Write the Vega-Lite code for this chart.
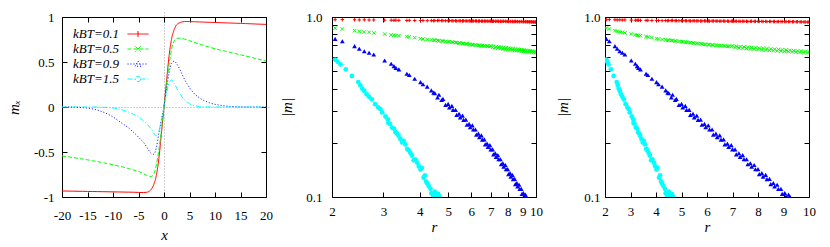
{
"$schema": "https://vega.github.io/schema/vega-lite/v6.json",
"background": "white",
"padding": {"left": 5, "top": 10, "right": 5, "bottom": 5},
"config": {
  "font": "Liberation Serif",
  "view": {"stroke": "black", "strokeWidth": 1},
  "axis": {"labelFont": "Liberation Serif", "labelFontSize": 13, "labelColor": "black", "titleFont": "Liberation Serif", "titleFontSize": 15, "titleFontStyle": "italic", "titleFontWeight": "normal", "titleColor": "black", "domain": false, "grid": false, "tickColor": "black", "tickSize": 5, "offset": -5, "tickWidth": 1, "labelPadding": 8, "labelOverlap": false, "labelFlush": false},
  "legend": {"labelFont": "Liberation Serif"}
},
"datasets": {
"curves": [
{"x":-20,"a":-0.933,"b":-0.544,"c":0,"d":0},
{"x":-18,"a":-0.935,"b":-0.56,"c":-0.001,"d":0},
{"x":-16,"a":-0.937,"b":-0.578,"c":-0.006,"d":0},
{"x":-15,"a":-0.938,"b":-0.587,"c":-0.012,"d":0},
{"x":-14,"a":-0.939,"b":-0.597,"c":-0.022,"d":0},
{"x":-13,"a":-0.94,"b":-0.607,"c":-0.035,"d":0},
{"x":-12,"a":-0.941,"b":-0.618,"c":-0.055,"d":-0.003},
{"x":-11,"a":-0.942,"b":-0.63,"c":-0.08,"d":-0.005},
{"x":-10,"a":-0.943,"b":-0.642,"c":-0.11,"d":-0.01},
{"x":-9,"a":-0.944,"b":-0.655,"c":-0.15,"d":-0.02},
{"x":-8,"a":-0.945,"b":-0.668,"c":-0.19,"d":-0.035},
{"x":-7,"a":-0.946,"b":-0.683,"c":-0.23,"d":-0.055},
{"x":-6,"a":-0.947,"b":-0.699,"c":-0.28,"d":-0.08},
{"x":-5,"a":-0.949,"b":-0.717,"c":-0.335,"d":-0.11},
{"x":-4.5,"a":-0.95,"b":-0.728,"c":-0.365,"d":-0.13},
{"x":-4,"a":-0.95,"b":-0.742,"c":-0.395,"d":-0.155},
{"x":-3.5,"a":-0.948,"b":-0.756,"c":-0.435,"d":-0.18},
{"x":-3,"a":-0.94,"b":-0.768,"c":-0.48,"d":-0.21},
{"x":-2.5,"a":-0.915,"b":-0.772,"c":-0.515,"d":-0.245},
{"x":-2,"a":-0.86,"b":-0.745,"c":-0.525,"d":-0.29},
{"x":-1.5,"a":-0.76,"b":-0.645,"c":-0.45,"d":-0.32},
{"x":-1,"a":-0.57,"b":-0.47,"c":-0.29,"d":-0.27},
{"x":-0.5,"a":-0.29,"b":-0.25,"c":-0.14,"d":-0.14},
{"x":0,"a":0,"b":0,"c":0,"d":0},
{"x":0.5,"a":0.29,"b":0.25,"c":0.2,"d":0.15},
{"x":1,"a":0.57,"b":0.47,"c":0.38,"d":0.27},
{"x":1.5,"a":0.76,"b":0.645,"c":0.49,"d":0.3},
{"x":2,"a":0.86,"b":0.735,"c":0.51,"d":0.26},
{"x":2.5,"a":0.915,"b":0.76,"c":0.48,"d":0.21},
{"x":3,"a":0.935,"b":0.765,"c":0.43,"d":0.16},
{"x":3.5,"a":0.945,"b":0.762,"c":0.37,"d":0.115},
{"x":4,"a":0.95,"b":0.755,"c":0.31,"d":0.08},
{"x":4.5,"a":0.95,"b":0.746,"c":0.26,"d":0.055},
{"x":5,"a":0.949,"b":0.737,"c":0.215,"d":0.035},
{"x":6,"a":0.947,"b":0.717,"c":0.145,"d":0.015},
{"x":7,"a":0.945,"b":0.698,"c":0.1,"d":0.006},
{"x":8,"a":0.943,"b":0.68,"c":0.068,"d":0.003},
{"x":9,"a":0.941,"b":0.663,"c":0.045,"d":0.001},
{"x":10,"a":0.939,"b":0.648,"c":0.03,"d":0},
{"x":11,"a":0.937,"b":0.633,"c":0.02,"d":0},
{"x":12,"a":0.935,"b":0.62,"c":0.012,"d":0},
{"x":13,"a":0.933,"b":0.606,"c":0.007,"d":0},
{"x":14,"a":0.931,"b":0.593,"c":0.004,"d":0},
{"x":15,"a":0.929,"b":0.58,"c":0.002,"d":0},
{"x":16,"a":0.927,"b":0.567,"c":0.001,"d":0},
{"x":18,"a":0.922,"b":0.539,"c":0,"d":0},
{"x":20,"a":0.918,"b":0.511,"c":0,"d":0}
],
"pts": [
{"r":2.05,"a":0.966,"b":0.868,"c":0.756,"d":0.58},
{"r":2.09,"d":0.565},
{"r":2.14,"d":0.545},
{"r":2.17,"a":0.967,"b":0.858,"c":0.733},
{"r":2.23,"d":0.512},
{"r":2.34,"d":0.47},
{"r":2.39,"a":0.965,"b":0.84,"c":0.689},
{"r":2.46,"d":0.435},
{"r":2.48,"a":0.963,"b":0.832,"c":0.666},
{"r":2.5,"d":0.418},
{"r":2.54,"d":0.4},
{"r":2.58,"a":0.964,"b":0.826,"c":0.645,"d":0.388},
{"r":2.63,"d":0.372},
{"r":2.68,"a":0.962,"b":0.822,"c":0.633,"d":0.36},
{"r":2.74,"d":0.349},
{"r":2.78,"a":0.963,"b":0.816,"c":0.619},
{"r":2.81,"d":0.328},
{"r":2.88,"d":0.315},
{"r":2.93,"d":0.308},
{"r":2.97,"d":0.295},
{"r":3.03,"a":0.961,"b":0.805,"c":0.573},
{"r":3.05,"d":0.28},
{"r":3.11,"d":0.27},
{"r":3.12,"d":0.258},
{"r":3.16,"d":0.255},
{"r":3.19,"a":0.96,"b":0.795,"c":0.55},
{"r":3.21,"d":0.243},
{"r":3.26,"a":0.959,"b":0.792,"c":0.533,"d":0.24},
{"r":3.3,"d":0.229},
{"r":3.31,"a":0.96,"b":0.79,"c":0.522},
{"r":3.34,"d":0.225},
{"r":3.38,"d":0.219},
{"r":3.39,"a":0.958,"b":0.787,"c":0.512},
{"r":3.43,"d":0.21},
{"r":3.48,"d":0.201},
{"r":3.52,"d":0.205},
{"r":3.57,"d":0.196},
{"r":3.61,"a":0.957,"b":0.778,"c":0.484},
{"r":3.62,"d":0.185},
{"r":3.66,"d":0.182},
{"r":3.68,"a":0.958,"b":0.775,"c":0.476},
{"r":3.71,"d":0.176},
{"r":3.76,"d":0.17},
{"r":3.81,"d":0.16},
{"r":3.84,"a":0.956,"b":0.768,"c":0.454},
{"r":3.86,"d":0.162},
{"r":3.92,"d":0.155},
{"r":3.97,"d":0.148},
{"r":4.02,"a":0.955,"b":0.757,"c":0.435,"d":0.142},
{"r":4.06,"d":0.145},
{"r":4.1,"a":0.956,"b":0.754,"c":0.423},
{"r":4.12,"d":0.128},
{"r":4.16,"d":0.132},
{"r":4.2,"d":0.122},
{"r":4.24,"a":0.954,"b":0.75,"c":0.41,"d":0.119},
{"r":4.29,"d":0.115},
{"r":4.35,"d":0.111},
{"r":4.38,"a":0.955,"b":0.746,"c":0.391,"d":0.105},
{"r":4.41,"d":0.104},
{"r":4.45,"d":0.101},
{"r":4.46,"a":0.953,"b":0.744,"c":0.38},
{"r":4.5,"a":0.956,"b":0.742,"c":0.378,"d":0.107},
{"r":4.55,"d":0.103},
{"r":4.6,"a":0.955,"b":0.74,"c":0.357},
{"r":4.62,"d":0.104},
{"r":4.65,"a":0.957,"b":0.738,"c":0.37},
{"r":4.66,"d":0.101},
{"r":4.75,"a":0.954,"b":0.736,"c":0.346},
{"r":4.8,"a":0.955,"b":0.735,"c":0.351},
{"r":4.9,"a":0.953,"b":0.732,"c":0.325},
{"r":5.0,"a":0.954,"b":0.729,"c":0.329},
{"r":5.05,"a":0.955,"b":0.728,"c":0.315},
{"r":5.15,"a":0.953,"b":0.726,"c":0.321},
{"r":5.2,"a":0.952,"b":0.724,"c":0.305},
{"r":5.3,"a":0.953,"b":0.721,"c":0.305},
{"r":5.35,"a":0.951,"b":0.72,"c":0.286},
{"r":5.45,"a":0.952,"b":0.718,"c":0.29},
{"r":5.5,"a":0.953,"b":0.716,"c":0.277},
{"r":5.6,"a":0.951,"b":0.713,"c":0.283},
{"r":5.65,"a":0.952,"b":0.712,"c":0.268},
{"r":5.75,"a":0.95,"b":0.71,"c":0.269},
{"r":5.8,"a":0.951,"b":0.708,"c":0.252},
{"r":5.9,"a":0.952,"b":0.706,"c":0.255},
{"r":5.95,"a":0.95,"b":0.704,"c":0.244},
{"r":6.05,"a":0.951,"b":0.702,"c":0.25},
{"r":6.1,"a":0.949,"b":0.701,"c":0.237},
{"r":6.2,"a":0.95,"b":0.699,"c":0.237},
{"r":6.25,"a":0.951,"b":0.698,"c":0.222},
{"r":6.35,"a":0.949,"b":0.696,"c":0.225},
{"r":6.4,"a":0.95,"b":0.695,"c":0.215},
{"r":6.5,"a":0.948,"b":0.694,"c":0.22},
{"r":6.55,"a":0.949,"b":0.693,"c":0.2085},
{"r":6.65,"a":0.95,"b":0.691,"c":0.209},
{"r":6.7,"a":0.948,"b":0.69,"c":0.196},
{"r":6.8,"a":0.949,"b":0.688,"c":0.198},
{"r":6.85,"a":0.947,"b":0.688,"c":0.19},
{"r":6.95,"a":0.948,"b":0.686,"c":0.194},
{"r":7.0,"a":0.949,"b":0.691,"c":0.184},
{"r":7.1,"a":0.947,"b":0.677,"c":0.184},
{"r":7.15,"a":0.948,"b":0.688,"c":0.1726},
{"r":7.25,"a":0.946,"b":0.674,"c":0.175},
{"r":7.3,"a":0.947,"b":0.685,"c":0.167},
{"r":7.4,"a":0.948,"b":0.671,"c":0.171},
{"r":7.45,"a":0.946,"b":0.682,"c":0.162},
{"r":7.55,"a":0.947,"b":0.668,"c":0.162},
{"r":7.6,"a":0.945,"b":0.679,"c":0.152},
{"r":7.7,"a":0.946,"b":0.665,"c":0.154},
{"r":7.75,"a":0.947,"b":0.676,"c":0.1473},
{"r":7.85,"a":0.945,"b":0.663,"c":0.1506},
{"r":7.9,"a":0.946,"b":0.674,"c":0.1427},
{"r":8.0,"a":0.944,"b":0.66,"c":0.1429},
{"r":8.05,"a":0.945,"b":0.671,"c":0.134},
{"r":8.15,"a":0.946,"b":0.658,"c":0.1356},
{"r":8.2,"a":0.944,"b":0.669,"c":0.1298},
{"r":8.3,"a":0.945,"b":0.655,"c":0.1327},
{"r":8.35,"a":0.943,"b":0.667,"c":0.1257},
{"r":8.45,"a":0.944,"b":0.653,"c":0.126},
{"r":8.5,"a":0.945,"b":0.664,"c":0.118},
{"r":8.6,"a":0.943,"b":0.651,"c":0.1196},
{"r":8.65,"a":0.944,"b":0.662,"c":0.1144},
{"r":8.75,"a":0.942,"b":0.649,"c":0.1169},
{"r":8.8,"a":0.943,"b":0.66,"c":0.1108},
{"r":8.9,"a":0.944,"b":0.646,"c":0.111},
{"r":8.95,"a":0.942,"b":0.658,"c":0.104},
{"r":9.05,"a":0.943,"b":0.644,"c":0.1053},
{"r":9.1,"a":0.941,"b":0.655,"c":0.1008},
{"r":9.2,"a":0.942,"b":0.642,"c":0.103},
{"r":9.25,"a":0.943,"b":0.653,"c":0.1006},
{"r":9.35,"a":0.941,"b":0.64},
{"r":9.4,"a":0.942,"b":0.65},
{"r":9.5,"a":0.94,"b":0.638},
{"r":9.55,"a":0.941,"b":0.648},
{"r":9.65,"a":0.939,"b":0.636},
{"r":9.7,"a":0.94,"b":0.646},
{"r":9.8,"a":0.938,"b":0.634},
{"r":9.85,"a":0.939,"b":0.643},
{"r":9.95,"a":0.937,"b":0.632},
{"r":10.0,"a":0.938,"b":0.641}
]
},
"bounds": "flush",
"spacing": 66,
"resolve": {"scale": {"color": "independent", "shape": "independent", "strokeDash": "independent"}},
"hconcat": [
{
  "width": 204, "height": 180,
  "data": {"name": "curves"},
  "transform": [{"fold": ["a", "b", "c", "d"], "as": ["k", "m"]}, {"filter": "isValid(datum.m)"}],
  "layer": [
    {
      "mark": {"type": "line", "strokeWidth": 1, "interpolate": "monotone", "clip": true},
      "encoding": {
        "x": {"field": "x", "type": "quantitative", "scale": {"domain": [-20, 20], "nice": false, "zero": false},
              "axis": {"orient": "bottom", "values": [-20, -15, -10, -5, 0, 5, 10, 15, 20], "labelExpr": "'' + datum.value", "title": "x", "labelPadding": 12, "titlePadding": 5,
                       "grid": true, "gridColor": "#a0a0a0", "gridDash": [1, 2], "gridOpacity": {"condition": {"test": "datum.value === 0", "value": 1}, "value": 0}}},
        "y": {"field": "m", "type": "quantitative", "scale": {"domain": [-1, 1], "nice": false},
              "axis": {"orient": "left", "values": [-1, -0.5, 0, 0.5, 1], "labelExpr": "'' + datum.value", "title": "mₓ", "labelPadding": 8, "titlePadding": 12,
                       "grid": true, "gridColor": "#a0a0a0", "gridDash": [1, 2], "gridOpacity": {"condition": {"test": "datum.value === 0", "value": 1}, "value": 0}}},
        "color": {"field": "k", "type": "nominal", "scale": {"domain": ["a", "b", "c", "d"], "range": ["#ff0000", "#00ff00", "#0000ff", "#00ffff"]},
                  "legend": {"title": null, "orient": "none", "legendX": 68, "legendY": 9, "labelExpr": "datum.value == 'a' ? 'kBT=0.1' : datum.value == 'b' ? 'kBT=0.5' : datum.value == 'c' ? 'kBT=0.9' : 'kBT=1.5'",
                             "labelAlign": "right", "labelOffset": -27, "symbolType": "M-1.4,0L1.4,0", "symbolSize": 225, "symbolStrokeWidth": 1, "labelFont": "Liberation Serif", "labelFontSize": 13, "labelFontStyle": "italic", "labelColor": "black", "rowPadding": 0, "padding": 0,
                             "encode": {"symbols": {"update": {"shape": {"signal": "datum.value == 'a' ? 'M-1.4,0L1.4,0M0,-0.4L0,0.4' : datum.value == 'b' ? 'M-1.4,0L1.4,0M-0.35,-0.35L0.35,0.35M0.35,-0.35L-0.35,0.35' : datum.value == 'c' ? 'M-1.4,0L1.4,0M0,-0.4L0.4,0.3L-0.4,0.3Z' : 'M-1.4,0L-0.35,0M0.35,0L1.4,0M0.35,0A0.35,0.35,0,1,1,-0.35,0A0.35,0.35,0,1,1,0.35,0'"}}}}}},
        "strokeDash": {"field": "k", "type": "nominal", "scale": {"domain": ["a", "b", "c", "d"], "range": [[1, 0], [4, 2], [1, 2], [5, 2, 1, 2]]},
                  "legend": {"title": null, "orient": "none", "legendX": 68, "legendY": 9, "labelExpr": "datum.value == 'a' ? 'kBT=0.1' : datum.value == 'b' ? 'kBT=0.5' : datum.value == 'c' ? 'kBT=0.9' : 'kBT=1.5'",
                             "labelAlign": "right", "labelOffset": -27, "symbolType": "M-1.4,0L1.4,0", "symbolSize": 225, "symbolStrokeWidth": 1, "labelFont": "Liberation Serif", "labelFontSize": 13, "labelFontStyle": "italic", "labelColor": "black", "rowPadding": 0, "padding": 0,
                             "encode": {"symbols": {"update": {"shape": {"signal": "datum.value == 'a' ? 'M-1.4,0L1.4,0M0,-0.4L0,0.4' : datum.value == 'b' ? 'M-1.4,0L1.4,0M-0.35,-0.35L0.35,0.35M0.35,-0.35L-0.35,0.35' : datum.value == 'c' ? 'M-1.4,0L1.4,0M0,-0.4L0.4,0.3L-0.4,0.3Z' : 'M-1.4,0L-0.35,0M0.35,0L1.4,0M0.35,0A0.35,0.35,0,1,1,-0.35,0A0.35,0.35,0,1,1,0.35,0'"}}}}}}
      }
    },
    {
      "mark": {"type": "line", "opacity": 0},
      "encoding": {
        "x": {"field": "x", "type": "quantitative", "axis": {"orient": "top", "values": [-20, -15, -10, -5, 0, 5, 10, 15, 20], "labels": false, "title": null}},
        "y": {"field": "m", "type": "quantitative", "axis": {"orient": "right", "values": [-1, -0.5, 0, 0.5, 1], "labels": false, "title": null}},
        "detail": {"field": "k"}
      }
    }
  ],
  "resolve": {"axis": {"x": "independent", "y": "independent"}}
},
{
  "bounds": "flush",
  "spacing": 69,
  "hconcat": [
    {
      "width": 204, "height": 180,
      "data": {"name": "pts"},
      "transform": [{"fold": ["a", "b", "c", "d"], "as": ["k", "m"]}, {"filter": "isValid(datum.m)"}],
      "layer": [
        {
          "transform": [{"filter": "datum.k == 'a' || datum.k == 'b'"}],
          "mark": {"type": "point", "filled": false, "strokeWidth": 1, "opacity": 1, "size": 12, "clip": true},
          "encoding": {
            "x": {"field": "r", "type": "quantitative", "scale": {"type": "log", "domain": [2, 10], "nice": false},
                  "axis": {"orient": "bottom", "values": [2, 3, 4, 5, 6, 7, 8, 9, 10], "format": "d", "title": "r", "labelPadding": 8, "titlePadding": 1}},
            "y": {"field": "m", "type": "quantitative", "scale": {"type": "log", "domain": [0.1, 1], "nice": false},
                  "axis": {"orient": "left", "values": [0.1, 0.2, 0.3, 0.4, 0.5, 0.6, 0.7, 0.8, 0.9, 1], "labelExpr": "datum.value == 1 ? '1.0' : datum.value == 0.1 ? '0.1' : ''", "title": "|m|", "labelPadding": 10, "titlePadding": 11}},
            "color": {"field": "k", "type": "nominal", "scale": {"domain": ["a", "b", "c", "d"], "range": ["#ff0000", "#00ff00", "#0000ff", "#00ffff"]}, "legend": null},
            "shape": {"field": "k", "type": "nominal", "scale": {"domain": ["a", "b", "c", "d"], "range": ["M-1,0L1,0M0,-1L0,1", "M-1,-1L1,1M1,-1L-1,1", "triangle-up", "circle"]}, "legend": null}
          }
        },
        {
          "transform": [{"filter": "datum.k == 'c' || datum.k == 'd'"}],
          "mark": {"type": "point", "filled": true, "opacity": 1, "size": 23, "clip": true},
          "encoding": {
            "x": {"field": "r", "type": "quantitative", "axis": {"orient": "top", "values": [2, 3, 4, 5, 6, 7, 8, 9, 10], "labels": false, "title": null}},
            "y": {"field": "m", "type": "quantitative", "axis": {"orient": "right", "values": [0.1, 0.2, 0.3, 0.4, 0.5, 0.6, 0.7, 0.8, 0.9, 1], "labels": false, "title": null}},
            "color": {"field": "k", "type": "nominal", "legend": null},
            "shape": {"field": "k", "type": "nominal", "legend": null}
          }
        }
      ],
      "resolve": {"axis": {"x": "independent", "y": "independent"}}
    },
    {
      "width": 204, "height": 180,
      "data": {"name": "pts"},
      "transform": [{"fold": ["a", "b", "c", "d"], "as": ["k", "m"]}, {"filter": "isValid(datum.m)"}],
      "layer": [
        {
          "transform": [{"filter": "datum.k == 'a' || datum.k == 'b'"}],
          "mark": {"type": "point", "filled": false, "strokeWidth": 1, "opacity": 1, "size": 12, "clip": true},
          "encoding": {
            "x": {"field": "r", "type": "quantitative", "scale": {"domain": [2, 10], "nice": false, "zero": false},
                  "axis": {"orient": "bottom", "values": [2, 3, 4, 5, 6, 7, 8, 9, 10], "format": "d", "title": "r", "labelPadding": 8, "titlePadding": 1}},
            "y": {"field": "m", "type": "quantitative", "scale": {"type": "log", "domain": [0.1, 1], "nice": false},
                  "axis": {"orient": "left", "values": [0.1, 0.2, 0.3, 0.4, 0.5, 0.6, 0.7, 0.8, 0.9, 1], "labelExpr": "datum.value == 1 ? '1.0' : datum.value == 0.1 ? '0.1' : ''", "title": "|m|", "labelPadding": 5, "titlePadding": 13}},
            "color": {"field": "k", "type": "nominal", "scale": {"domain": ["a", "b", "c", "d"], "range": ["#ff0000", "#00ff00", "#0000ff", "#00ffff"]}, "legend": null},
            "shape": {"field": "k", "type": "nominal", "scale": {"domain": ["a", "b", "c", "d"], "range": ["M-1,0L1,0M0,-1L0,1", "M-1,-1L1,1M1,-1L-1,1", "triangle-up", "circle"]}, "legend": null}
          }
        },
        {
          "transform": [{"filter": "datum.k == 'c' || datum.k == 'd'"}],
          "mark": {"type": "point", "filled": true, "opacity": 1, "size": 23, "clip": true},
          "encoding": {
            "x": {"field": "r", "type": "quantitative", "axis": {"orient": "top", "values": [2, 3, 4, 5, 6, 7, 8, 9, 10], "labels": false, "title": null}},
            "y": {"field": "m", "type": "quantitative", "axis": {"orient": "right", "values": [0.1, 0.2, 0.3, 0.4, 0.5, 0.6, 0.7, 0.8, 0.9, 1], "labels": false, "title": null}},
            "color": {"field": "k", "type": "nominal", "legend": null},
            "shape": {"field": "k", "type": "nominal", "legend": null}
          }
        }
      ],
      "resolve": {"axis": {"x": "independent", "y": "independent"}}
    }
  ]
}
]
}
